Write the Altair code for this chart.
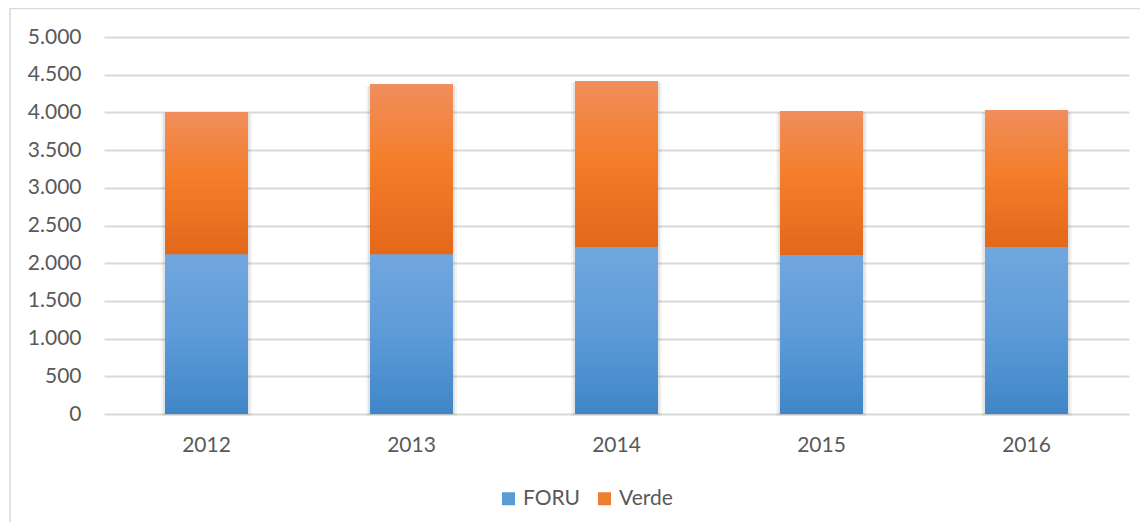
import altair as alt
import pandas as pd

years = ["2012", "2013", "2014", "2015", "2016"]
foru = [2120, 2120, 2215, 2110, 2215]
verde = [1885, 2255, 2200, 1910, 1815]
series = ["FORU", "Verde"]
y_ticks = [0, 500, 1000, 1500, 2000, 2500, 3000, 3500, 4000, 4500, 5000]

wide = pd.DataFrame({"year": years, "foru": foru, "verde": verde})
wide["total"] = wide["foru"] + wide["verde"]

long = pd.DataFrame({
    "year": years * 2,
    "serie": [series[0]] * len(years) + [series[1]] * len(years),
    "value": foru + verde,
    "order": [0] * len(years) + [1] * len(years),
})

FONT = "Lato"
TXT = "#595959"
GRID = "#d9d9d9"
BAR_W = 83

x_enc = alt.X(
    "year:N",
    sort=years,
    scale=alt.Scale(paddingInner=0, paddingOuter=0),
    axis=alt.Axis(title=None, labelAngle=0, ticks=False, domain=False,
                  labelFontSize=21, labelFont=FONT, labelColor=TXT,
                  labelPadding=20, grid=False),
)
y_axis = alt.Axis(title=None, values=y_ticks, ticks=False, domain=False,
                  labelFontSize=21, labelFont=FONT, labelColor=TXT,
                  labelPadding=23, gridColor=GRID, gridWidth=2,
                  labelExpr="replace(format(datum.value, ','), ',', '.')")
y_scale = alt.Scale(domain=[0, 5000], nice=False)

legend_layer = alt.Chart(long).mark_bar(size=BAR_W).encode(
    x=x_enc,
    y=alt.Y("value:Q", stack="zero", scale=y_scale, axis=y_axis),
    order=alt.Order("order:Q"),
    color=alt.Color(
        "serie:N",
        sort=series,
        scale=alt.Scale(domain=series, range=["#5b9bd5", "#ed7d31"]),
        legend=alt.Legend(orient="none", legendX=394, legendY=451,
                          direction="horizontal", title=None,
                          symbolType="square", symbolSize=169,
                          symbolStrokeWidth=0,
                          labelFontSize=21, labelFont=FONT,
                          labelColor=TXT, labelOffset=4, columnPadding=13),
    ),
)

shadow_outer = alt.Chart(wide).mark_bar(
    size=BAR_W + 8, color="#000000", opacity=0.04, yOffset=2
).encode(
    x=x_enc,
    y=alt.Y("total:Q", scale=y_scale, axis=y_axis),
)
shadow_inner = alt.Chart(wide).mark_bar(
    size=BAR_W + 4, color="#000000", opacity=0.07, yOffset=1
).encode(
    x=x_enc,
    y=alt.Y("total:Q", scale=y_scale, axis=y_axis),
)

blue_grad = alt.LinearGradient(
    gradient="linear", x1=0, x2=0, y1=0, y2=1,
    stops=[alt.GradientStop(color="#71a7de", offset=0),
           alt.GradientStop(color="#5d9bd8", offset=0.5),
           alt.GradientStop(color="#3f86c8", offset=1)],
)
orange_grad = alt.LinearGradient(
    gradient="linear", x1=0, x2=0, y1=0, y2=1,
    stops=[alt.GradientStop(color="#f08e5c", offset=0),
           alt.GradientStop(color="#f47e2b", offset=0.45),
           alt.GradientStop(color="#e3681a", offset=1)],
)

foru_layer = alt.Chart(wide).mark_bar(size=BAR_W, fill=blue_grad).encode(
    x=x_enc,
    y=alt.Y("foru:Q", scale=y_scale, axis=y_axis),
)
verde_layer = alt.Chart(wide).mark_bar(size=BAR_W, fill=orange_grad).encode(
    x=x_enc,
    y=alt.Y("foru:Q", scale=y_scale, axis=y_axis),
    y2="total:Q",
)

frame = alt.Chart(alt.Data(values=[{"f": 1}])).mark_rect(
    filled=False, stroke=GRID, strokeWidth=1.5
).encode(
    x=alt.value(-94), x2=alt.value(1100),
    y=alt.value(-28.5), y2=alt.value(520),
)

chart = alt.layer(
    frame, shadow_outer, shadow_inner, legend_layer, foru_layer, verde_layer
).properties(
    width=1025, height=377,
    autosize=alt.AutoSizeParams(type="none"),
    padding={"left": 96, "top": 29, "right": 11, "bottom": 108},
).configure(background="white").configure_view(stroke=None)

chart.save("out.html", embed_options={"renderer": "svg", "actions": False})
